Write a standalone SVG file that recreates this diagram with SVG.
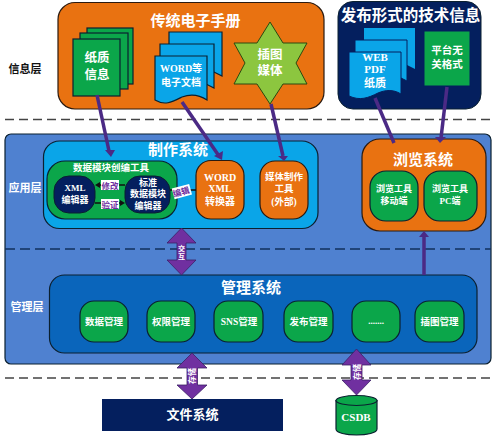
<svg xmlns="http://www.w3.org/2000/svg" width="494" height="438" viewBox="0 0 494 438">
<style>
text{font-family:"Liberation Serif","Noto Sans CJK SC",serif;font-weight:bold;fill:#fff;text-anchor:middle}
.d{fill:#111}
.o{fill:#e97211;stroke:#2a1a10;stroke-width:1.2}
.g{fill:#0ba64a;stroke:#0b2030;stroke-width:1.2}
.b{fill:#0aa5e8;stroke:#0b2030;stroke-width:1.2}
.n{fill:#041f5e;stroke:#0b2030;stroke-width:1}
.m{fill:#0a65bb;stroke:#0b2030;stroke-width:1.2}
.dash{fill:none;stroke:#444;stroke-width:1.3;stroke-dasharray:9 5}
.dash2{fill:none;stroke:#12305c;stroke-width:1.5;stroke-dasharray:10 5}
.line{fill:none;stroke:#4b2a85;stroke-width:3.5}
.arr{fill:#7030a0;stroke:#3b1f66;stroke-width:.8}
.head{fill:#4b2a85;stroke:none}
.lab{fill:#fff;stroke:none}
.pl{fill:#7030a0;font-size:8.5px}
.s{font-size:9px}.t{font-size:10px}.u{font-size:11px}.v{font-size:9.5px}
.h{font-size:15px}
</style>
<g id="panel"><rect x="5" y="134" width="486" height="230" rx="6" fill="#4f81d0" stroke="#0b2030" stroke-width="1.2"/></g>
<g id="layers">
<path class="dash" d="M5 119.500H494M5 378H494"/>
<path class="dash2" d="M5 249H491"/>
<text class="d" x="25" y="73" style="font-size:11px">信息层</text>
<text x="25" y="192" class="u">应用层</text>
<text x="27" y="311" class="u">管理层</text>
</g>
<g id="manual">
<rect class="o" x="58" y="2.500" width="266" height="106.500" rx="17"/>
<text x="195.500" y="26" class="h">传统电子手册</text>
<rect class="g" x="87" y="28" width="46" height="56"/>
<rect class="g" x="80" y="33" width="48" height="56"/>
<rect class="g" x="73" y="39" width="47" height="57"/>
<text x="97" y="62" style="font-size:12.500px">纸质</text><text x="97" y="79" style="font-size:12.500px">信息</text>
<path class="b" d="M169 32H222V76L214 72 169 72Z"/>
<path class="b" d="M160 44H214V88L206 84 160 84Z"/>
<path class="b" d="M155 56H207V100C198 94 190 94 182 97C172 102 165 106 155 100Z"/>
<text x="181" y="72" class="t">WORD等</text><text x="181" y="86" class="t">电子文档</text>
<path d="M270 22L283 43H307L296 63 307 84H283L270 104 257 84H234L245 63 234 43H257Z" fill="#8cc63f" stroke="#2a4a10" stroke-width="1"/>
<text x="270" y="59" style="font-size:12.500px">插图</text><text x="270" y="75" style="font-size:12.500px">媒体</text>
</g>
<g id="publish">
<rect class="n" x="338" y="1.500" width="143" height="107.500" rx="15"/>
<text x="410.500" y="21" style="font-size:15.500px">发布形式的技术信息</text>
<path fill="#0aa5e8" d="M364 28H415V69L407 65 364 65Z"/>
<path fill="#0aa5e8" stroke="#041f5e" d="M355 40H407V81L401 78 355 78Z"/>
<path fill="#0aa5e8" stroke="#041f5e" d="M349 52H401V94C393 89 385 90 378 93C368 98 360 101 349 96Z"/>
<text x="375" y="61" class="u">WEB</text><text x="375" y="73" class="u">PDF</text><text x="375" y="87" class="u">纸质</text>
<rect fill="#0ba64a" stroke="#041f5e" x="424" y="31" width="46" height="55"/>
<text x="447" y="54" style="font-size:10.500px">平台无</text><text x="447" y="68" style="font-size:10.500px">关格式</text>
</g>
<g id="authoring">
<rect class="b" x="43.500" y="141" width="274.500" height="87.500" rx="16"/>
<text x="178" y="155" class="h">制作系统</text>
</g>
<g id="tool"><rect class="g" x="47" y="161" width="130" height="58" rx="18"/>
<text x="111" y="171" class="v">数据模块创编工具</text>
<rect class="n" x="54" y="176" width="41" height="37" rx="15"/>
<text x="75" y="191" class="s">XML</text><text x="75" y="203" class="s">编辑器</text>
<rect class="n" x="125" y="176" width="45" height="37" rx="15"/>
<text x="148" y="186" class="s">标准</text><text x="148" y="197" class="s">数据模块</text><text x="148" y="209" class="s">编辑器</text>
<path d="M97 185H125M95 203H123" stroke="#111" stroke-width="1.500"/>
<path d="M95 185 100 182V188Z" fill="#111"/><path d="M125 203 120 200V206Z" fill="#111"/>
<rect class="lab" x="101" y="180" width="18" height="10"/><text class="pl" x="110" y="188.500">修改</text>
<rect class="lab" x="101" y="199" width="18" height="10"/><text class="pl" x="110" y="207.500">验证</text>
</g>
<g id="word"><rect class="o" x="196" y="160.500" width="48" height="58.500" rx="15"/>
<text x="220" y="181" class="t">WORD</text><text x="220" y="192" class="t">XML</text><text x="220" y="205" class="t">转换器</text></g>
<g id="media"><rect class="o" x="260" y="161" width="48" height="58" rx="15"/>
<text x="284" y="180" class="v">媒体制作</text><text x="284" y="192" class="v">工具</text><text x="284" y="205" class="v">(外部)</text></g>
<g id="browse"><rect class="o" x="362" y="139" width="124" height="92" rx="18"/>
<text x="423" y="165" class="h">浏览系统</text>
<rect class="g" x="370" y="171" width="48" height="50" rx="16"/><text x="394" y="192" class="s">浏览工具</text><text x="394" y="204" class="s">移动端</text>
<rect class="g" x="424" y="171" width="53" height="50" rx="16"/><text x="450" y="192" class="s">浏览工具</text><text x="450" y="204" class="s">PC端</text></g>
<g id="manage"><rect class="m" x="49.500" y="275" width="427.500" height="78" rx="15"/>
<text x="251" y="293" class="h">管理系统</text>
<rect class="g" x="80" y="301" width="48" height="41" rx="14"/><text x="104" y="325" class="v">数据管理</text>
<rect class="g" x="147" y="301" width="48" height="41" rx="14"/><text x="171" y="325" class="v">权限管理</text>
<rect class="g" x="214" y="301" width="49" height="41" rx="14"/><text x="239" y="325" class="v">SNS管理</text>
<rect class="g" x="284" y="301" width="49" height="41" rx="14"/><text x="308.500" y="325" class="v">发布管理</text>
<rect class="g" x="352" y="301" width="48" height="41" rx="14"/><text x="376" y="324" class="s">.......</text>
<rect class="g" x="415" y="301" width="49" height="41" rx="14"/><text x="439.500" y="325" class="v">插图管理</text></g>
<g id="fs"><rect x="102" y="399" width="181" height="32" fill="#041f5e"/><text x="192.500" y="419" style="font-size:13px">文件系统</text></g>
<g id="csdb"><path class="g" d="M336 400.500V429C336 437 377 437 377 429V400.500Z"/><ellipse class="g" cx="356.500" cy="400.500" rx="20.500" ry="5"/><text x="356" y="421" class="u">CSDB</text></g>
<g id="connectors">
<path class="line" d="M97 95L109 151"/><path class="head" d="M105 150H115L111 157Z"/>
<path class="line" d="M182 102L219 156"/><path class="head" d="M214 156 223 151 222 160Z"/>
<path class="line" d="M271 104L283 156"/><path class="head" d="M278 156H288L284 161Z"/>
<path class="line" d="M375 98L394 143"/>
<path class="line" d="M447 87L441 138"/><path class="head" d="M435 137H446L440 143Z"/>
<path class="line" d="M424 275V236"/><path class="head" d="M419 237 424 231 429 237Z"/>
<path class="arr" d="M181.500 228L196 243H186V260H196L181.500 275 167 260H177V243H167Z"/>
<path class="arr" d="M192 353L207 368H197.500V385H207L192 399 177 385H187V368H177Z"/>
<path class="arr" d="M356.500 349L371 365H362V380H371L356.500 395 342 380H351V365H342Z"/>
<text x="181.500" y="251" style="font-size:7px">交</text><text x="181.500" y="259" style="font-size:7px">互</text>
<text x="0" y="0" transform="translate(195,376) rotate(-90)" style="font-size:8px">存储</text>
<text x="0" y="0" transform="translate(359.500,372) rotate(-90)" style="font-size:8px">存储</text>
<path d="M170 190H196" stroke="#111" stroke-width="1.500"/>
<rect class="lab" x="173" y="186" width="18" height="11" transform="rotate(-15 182 192)"/>
<text class="pl" transform="translate(182,195) rotate(-15)">编辑</text>
</g>
</svg>
